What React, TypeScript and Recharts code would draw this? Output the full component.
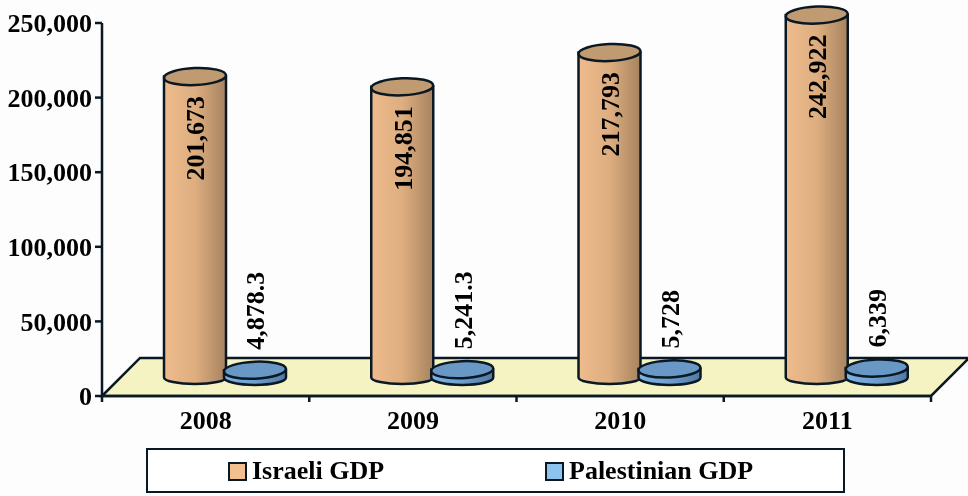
import React from "react";
import {
  BarChart,
  Bar,
  XAxis,
  YAxis,
  Legend,
  LabelList,
  ReferenceArea,
} from "recharts";

const years = ["2008", "2009", "2010", "2011"];
const israeliGdp = [201673, 194851, 217793, 242922];
const palestinianGdp = [4878.3, 5241.3, 5728, 6339];
const yTicks = [0, 50000, 100000, 150000, 200000, 250000];
const floorDepthValue = 25500;

const chartData = years.map((year, i) => ({
  year,
  israeli: israeliGdp[i],
  palestinian: palestinianGdp[i],
}));

const INK = "#0a1824";
const FONT = '"Liberation Serif", "Times New Roman", serif';
const FONT_SIZE = 26;

// fake 3D: bars sit on the floor, up and to the right of the axis origin
const SHIFT_X = 19;
const SHIFT_Y = -18.5;

function Cylinder({ x, y, width, height, bodyFill, topFill, baseRy }: any) {
  const rx = width / 2;
  const ry = 8.5;
  const left = x + SHIFT_X;
  const right = left + width;
  const base = y + height + SHIFT_Y;
  const top = y + SHIFT_Y;
  return (
    <g stroke={INK} strokeWidth={2.5}>
      <path
        d={`M${left},${top} L${left},${base} A${rx},${baseRy} 0 0 0 ${right},${base} L${right},${top} Z`}
        fill={bodyFill}
      />
      <ellipse
        cx={left + rx}
        cy={top}
        rx={rx}
        ry={ry}
        fill={topFill}
        transform={`rotate(-2.5 ${left + rx} ${top})`}
      />
    </g>
  );
}

function Floor({ x, y, width, height }: any) {
  const points = [
    [x, y + height],
    [x + height, y],
    [x + width + height, y],
    [x + width, y + height],
  ]
    .map((p) => p.join(","))
    .join(" ");
  return <polygon points={points} fill="#f6f3c3" stroke={INK} strokeWidth={2.5} />;
}

function BarValue({ x, y, width, value, anchor, gap }: any) {
  const cx = x + width / 2 + SHIFT_X + 1;
  const cy = y + gap;
  return (
    <text
      x={cx}
      y={cy}
      transform={`rotate(-90 ${cx} ${cy})`}
      textAnchor={anchor}
      dominantBaseline="central"
      fontFamily={FONT}
      fontWeight="bold"
      fontSize={FONT_SIZE}
      fill="#000"
    >
      {Number(value).toLocaleString("en-US")}
    </text>
  );
}

const BAND = 207.25;

// ticks go on the band edges, labels in the middle of the band
function YearTick({ x, y, payload, index }: any) {
  const edges = index === years.length - 1 ? [x - BAND / 2, x + BAND / 2] : [x - BAND / 2];
  return (
    <g>
      {edges.map((ex) => (
        <line key={ex} x1={ex} x2={ex} y1={y - 9} y2={y - 2} stroke={INK} strokeWidth={2.5} />
      ))}
      <text
        x={x}
        y={y + 25}
        textAnchor="middle"
        fontFamily={FONT}
        fontWeight="bold"
        fontSize={FONT_SIZE}
        fill="#000"
      >
        {payload.value}
      </text>
    </g>
  );
}

const legendSwatches = ["#f2bf8e", "#8cc4ee"];

function LegendBox({ payload }: any) {
  const slots = [80, 397];
  return (
    <div
      style={{
        position: "relative",
        boxSizing: "border-box",
        width: 699,
        height: 45,
        border: `2.5px solid ${INK}`,
        background: "#fff",
        fontFamily: FONT,
        fontWeight: "bold",
        fontSize: FONT_SIZE,
        color: "#000",
      }}
    >
      {(payload || []).map((item: any, i: number) => (
        <div
          key={item.value}
          style={{
            position: "absolute",
            left: slots[i],
            top: 6,
            display: "flex",
            alignItems: "center",
            height: 30,
            whiteSpace: "nowrap",
          }}
        >
          <span
            style={{
              display: "inline-block",
              boxSizing: "border-box",
              width: 19,
              height: 19,
              marginRight: 5,
              border: `2.5px solid ${INK}`,
              background: legendSwatches[i],
            }}
          />
          {item.value}
        </div>
      ))}
    </div>
  );
}

export default function App() {
  return (
    <div
      style={{
        position: "absolute",
        left: 0,
        top: 0,
        width: 968,
        height: 496,
        background: "#fdfdfe",
        filter: "blur(0.6px)",
      }}
    >
      <BarChart
        width={968}
        height={496}
        data={chartData}
        margin={{ top: 23, right: 37, bottom: 3, left: 0 }}
        barSize={62}
        barGap={-2}
      >
        <defs>
          <linearGradient id="orangeBody" x1="0" y1="0" x2="1" y2="0">
            <stop offset="0%" stopColor="#eebb8c" />
            <stop offset="50%" stopColor="#deae80" />
            <stop offset="100%" stopColor="#a6835f" />
          </linearGradient>
          <linearGradient id="blueBody" x1="0" y1="0" x2="1" y2="0">
            <stop offset="0%" stopColor="#7fb3e2" />
            <stop offset="50%" stopColor="#6f9fcf" />
            <stop offset="100%" stopColor="#4f7aa2" />
          </linearGradient>
        </defs>
        <ReferenceArea y1={0} y2={floorDepthValue} shape={Floor} ifOverflow="visible" />
        <XAxis
          dataKey="year"
          axisLine={{ stroke: INK, strokeWidth: 2.5 }}
          tickLine={false}
          height={52}
          tick={YearTick}
          interval={0}
        />
        <YAxis
          width={102}
          domain={[0, 250000]}
          ticks={yTicks}
          tickFormatter={(v: number) => v.toLocaleString("en-US")}
          axisLine={{ stroke: INK, strokeWidth: 2.5 }}
          tickLine={{ stroke: INK, strokeWidth: 2.5 }}
          tickSize={7}
          tickMargin={3}
          tick={{ fontFamily: FONT, fontWeight: "bold", fontSize: FONT_SIZE, fill: "#000" }}
        />
        <Legend
          verticalAlign="bottom"
          height={45}
          wrapperStyle={{ left: 146, width: 699 }}
          content={LegendBox}
        />
        <Bar
          dataKey="israeli"
          name="Israeli GDP"
          fill="#f2bf8e"
          isAnimationActive={false}
          shape={(props: any) => (
            <Cylinder {...props} bodyFill="url(#orangeBody)" topFill="#c09a70" baseRy={6.5} />
          )}
        >
          <LabelList
            dataKey="israeli"
            content={(props: any) => <BarValue {...props} anchor="end" gap={1} />}
          />
        </Bar>
        <Bar
          dataKey="palestinian"
          name="Palestinian GDP"
          fill="#74a6d8"
          isAnimationActive={false}
          shape={(props: any) => (
            <Cylinder {...props} bodyFill="url(#blueBody)" topFill="#6a98c6" baseRy={7.5} />
          )}
        >
          <LabelList
            dataKey="palestinian"
            content={(props: any) => <BarValue {...props} anchor="start" gap={-39} />}
          />
        </Bar>
      </BarChart>
    </div>
  );
}
